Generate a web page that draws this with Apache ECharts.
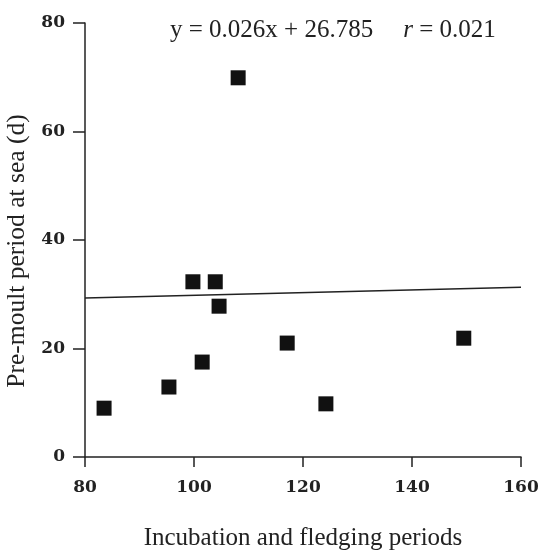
<!DOCTYPE html>
<html>
<head>
<meta charset="utf-8">
<script src="https://cdn.jsdelivr.net/npm/echarts@6/dist/echarts.min.js"></script>
<style>
  html, body { margin: 0; padding: 0; background: #fff; }
  #chart { width: 539px; height: 550px; }
</style>
</head>
<body>
<div id="chart"></div>
<script>
// incubation + fledging period (d) vs pre-moult period at sea (d)
var xValues = [83.5, 95.4, 101.5, 99.8, 103.9, 104.6, 108.1, 117.1, 124.2, 149.5];
var yValues = [9.0, 12.9, 17.5, 32.3, 32.3, 27.8, 69.9, 21.0, 9.8, 21.9];
// fitted line as drawn, ends at x = 80 and x = 160
var fitX = [80, 160];
var fitY = [29.3, 31.3];
var xTicks = [80, 100, 120, 140, 160];
var yTicks = [0, 20, 40, 60, 80];

var points = xValues.map(function (x, i) { return [x, yValues[i]]; });
var fitLine = fitX.map(function (x, i) { return [x, fitY[i]]; });

var chart = echarts.init(document.getElementById('chart'));
var serif = '"Liberation Serif", "DejaVu Serif", serif';
var tickLabel = { fontFamily: '"DejaVu Serif", serif', fontWeight: 'bold', fontSize: 17, color: '#222' };

chart.setOption({
  animation: false,
  backgroundColor: '#fff',
  grid: { left: 85, right: 18, top: 23, bottom: 93, containLabel: false, outerBoundsMode: 'none' },
  xAxis: {
    type: 'value',
    min: xTicks[0], max: xTicks[xTicks.length - 1], interval: 20,
    splitLine: { show: false },
    axisLine: { lineStyle: { color: '#222', width: 1.5 } },
    axisTick: { length: 10, lineStyle: { color: '#222', width: 1.5 } },
    axisLabel: Object.assign({ margin: 22 }, tickLabel),
    name: 'Incubation and fledging periods',
    nameLocation: 'middle', nameGap: 69,
    nameTextStyle: { fontFamily: serif, fontSize: 25, color: '#222' }
  },
  yAxis: {
    type: 'value',
    min: yTicks[0], max: yTicks[yTicks.length - 1], interval: 20,
    splitLine: { show: false },
    axisLine: { lineStyle: { color: '#222', width: 1.5 } },
    axisTick: { length: 12, lineStyle: { color: '#222', width: 1.5 } },
    axisLabel: Object.assign({ margin: 20 }, tickLabel),
    name: 'Pre-moult period at sea (d)',
    nameLocation: 'middle', nameGap: 50,
    nameTextStyle: { fontFamily: serif, fontSize: 25.5, color: '#222', padding: [0, 22, 0, 0] }
  },
  graphic: [{
    type: 'text',
    left: 170, top: 18,
    style: {
      text: '{n|y = 0.026x + 26.785}{gap|}{i|r}{n| = 0.021}',
      rich: {
        n: { fontFamily: serif, fontSize: 25, fill: '#222' },
        i: { fontFamily: serif, fontSize: 25, fontStyle: 'italic', fill: '#222' },
        gap: { width: 30 }
      }
    }
  }],
  series: [{
    type: 'line',
    data: fitLine,
    symbol: 'none',
    lineStyle: { color: '#222', width: 1.5 },
    silent: true
  }, {
    type: 'scatter',
    data: points,
    symbol: 'rect',
    symbolSize: 15,
    itemStyle: { color: '#111', opacity: 1 }
  }]
});
</script>
</body>
</html>
